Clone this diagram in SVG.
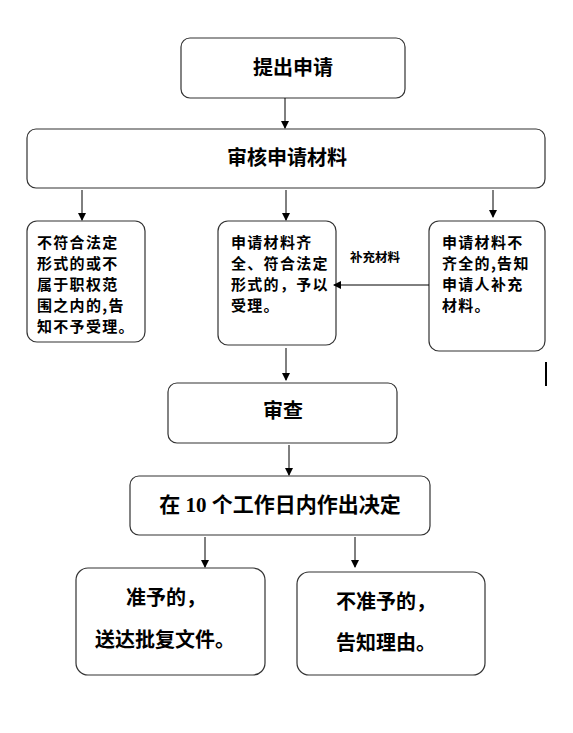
<svg xmlns="http://www.w3.org/2000/svg" width="573" height="733" viewBox="0 0 573 733">
<defs>
<marker id="ah" markerWidth="8" markerHeight="8" refX="7" refY="4" orient="auto" markerUnits="userSpaceOnUse">
<path d="M0,0 L8,4 L0,8 z" fill="#000"/>
</marker>
<style>
.box{fill:#fff;stroke:#333;stroke-width:1.2}
.t{font-family:"Noto Sans CJK SC","Liberation Sans",sans-serif;font-weight:700;fill:#000}
.big{font-size:20px}
.mid{font-size:15px;letter-spacing:1.3px}
.sm{font-size:12.5px}
.ser{font-family:"Liberation Serif","Noto Sans CJK SC",serif;font-weight:700;font-size:20px;fill:#000}
.c{stroke:#000;stroke-width:1;fill:none;marker-end:url(#ah)}
</style>
</defs>
<rect width="573" height="733" fill="#fff"/>
<g id="n1"><rect class="box" x="181" y="38" width="224" height="60" rx="9"/><text class="t big" x="293" y="75" text-anchor="middle">提出申请</text></g>
<g id="n2"><rect class="box" x="27" y="129" width="518" height="59" rx="9"/><text class="t big" x="287" y="165" text-anchor="middle">审核申请材料</text></g>
<g id="n3"><rect class="box" x="27" y="221" width="118" height="121" rx="10"/>
<text class="t mid"><tspan x="37" y="248">不符合法定</tspan><tspan x="37" y="269">形式的或不</tspan><tspan x="37" y="290">属于职权范</tspan><tspan x="37" y="311">围之内的,告</tspan><tspan x="37" y="332">知不予受理。</tspan></text></g>
<g id="n4"><rect class="box" x="218" y="221" width="118" height="124" rx="10"/>
<text class="t mid"><tspan x="231" y="248">申请材料齐</tspan><tspan x="231" y="269">全、符合法定</tspan><tspan x="231" y="290">形式的，予以</tspan><tspan x="231" y="311">受理。</tspan></text></g>
<g id="n5"><rect class="box" x="429" y="221" width="116" height="130" rx="10"/>
<text class="t mid"><tspan x="442" y="248">申请材料不</tspan><tspan x="442" y="269">齐全的,告知</tspan><tspan x="442" y="290">申请人补充</tspan><tspan x="442" y="311">材料。</tspan></text></g>
<g id="n6"><rect class="box" x="168" y="383" width="229" height="60" rx="9"/><text class="t big" x="283" y="418" text-anchor="middle">审查</text></g>
<g id="n7"><rect class="box" x="130" y="476" width="300" height="59" rx="9"/><text class="ser" x="280" y="512" text-anchor="middle" style="font-size:21px">在 10 个工作日内作出决定</text></g>
<g id="n8"><rect class="box" x="76" y="568" width="189" height="107" rx="12"/><text class="ser"><tspan x="166" y="605" text-anchor="middle">准予的，</tspan><tspan x="165" y="647" text-anchor="middle">送达批复文件。</tspan></text></g>
<g id="n9"><rect class="box" x="297" y="572" width="188" height="103" rx="12"/><text class="ser"><tspan x="386" y="609" text-anchor="middle">不准予的，</tspan><tspan x="386" y="650" text-anchor="middle">告知理由。</tspan></text></g>
<g id="connectors">
<line class="c" x1="285" y1="98" x2="285" y2="128"/>
<line class="c" x1="82" y1="190" x2="82" y2="220"/>
<line class="c" x1="286" y1="190" x2="286" y2="220"/>
<line class="c" x1="493" y1="190" x2="493" y2="217"/>
<line class="c" x1="429" y1="285" x2="334" y2="285"/>
<text class="t sm" x="350" y="262">补充材料</text>
<line class="c" x1="286" y1="348" x2="286" y2="380"/>
<line class="c" x1="289" y1="445" x2="289" y2="475"/>
<line class="c" x1="205" y1="537" x2="205" y2="567"/>
<line class="c" x1="355" y1="537" x2="355" y2="567"/>
<line x1="546" y1="362" x2="546" y2="386" stroke="#000" stroke-width="2"/>
</g>
</svg>
